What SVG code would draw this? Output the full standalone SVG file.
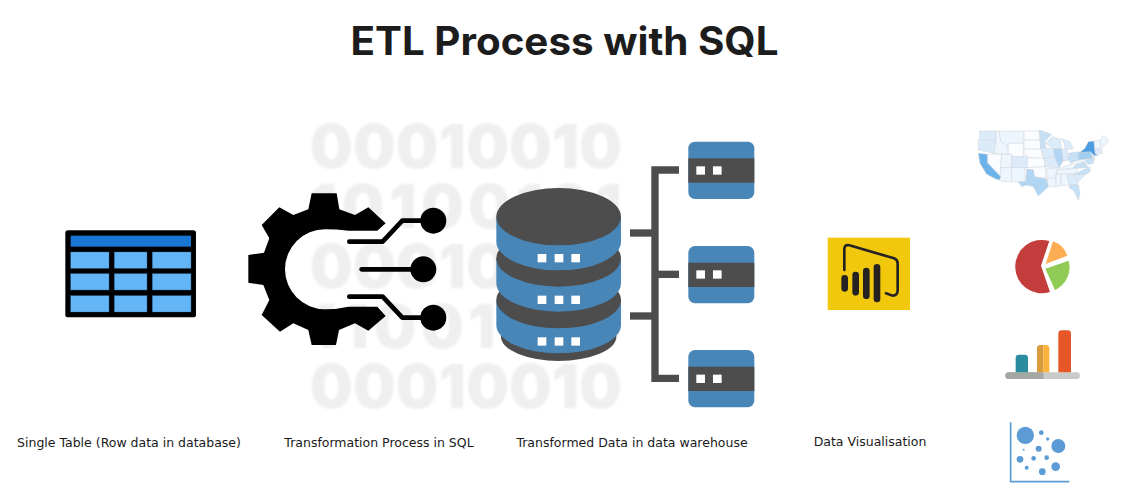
<svg xmlns="http://www.w3.org/2000/svg" width="1122" height="500" viewBox="0 0 1122 500">
<defs>
<style>
.lbl{font-family:"DejaVu Sans",Verdana,sans-serif;font-size:12.5px;fill:#1a1a1a;text-anchor:middle}
.bin{font-family:Inter,"Open Sans",sans-serif;font-weight:900;font-size:60px;fill:#efefef}
.db{fill:#4d4d4d}.bl{fill:#4a86b8}.wh{fill:#fff}
.cell{fill:#64b5f6;stroke:#2f6fa3;stroke-width:1}
.bar{fill:#252423}
.dot{fill:#5b9bd5}
.s0{fill:#fafcff}.s1{fill:#eef6fd}.s2{fill:#dcebf9}.s3{fill:#c6e0f6}.s4{fill:#b0d6f3}
</style>
<filter id="soft"><feGaussianBlur stdDeviation="1.1"/></filter>
<filter id="s2" x="-5%" y="-5%" width="110%" height="110%"><feGaussianBlur stdDeviation="1.5"/></filter>
</defs>
<rect width="1122" height="500" fill="#fff"/>
<text id="title" x="564.500" y="55" text-anchor="middle" font-family="Inter,Open Sans,sans-serif" font-weight="700" font-size="39" fill="#1c1c1c" textLength="428" lengthAdjust="spacingAndGlyphs">ETL Process with SQL</text>

<g id="binary" filter="url(#soft)">
<text class="bin" x="310" y="168" textLength="312">00010010</text>
<text class="bin" x="310" y="228" textLength="312">10100101</text>
<text class="bin" x="310" y="288" textLength="312">00010010</text>
<text class="bin" x="310" y="348" textLength="312">11001010</text>
<text class="bin" x="310" y="408" textLength="312">00010010</text>
</g>

<g id="table" transform="translate(50 220) scale(.3333)">
<rect x="46" y="31" width="392" height="261" rx="8"/>
<rect x="62" y="47" width="361" height="33" fill="#1976d2"/>
<rect class="cell" x="62" y="96" width="115" height="49"/><rect class="cell" x="193" y="96" width="98" height="49"/><rect class="cell" x="307" y="96" width="116" height="49"/>
<rect class="cell" x="62" y="161" width="115" height="49"/><rect class="cell" x="193" y="161" width="98" height="49"/><rect class="cell" x="307" y="161" width="116" height="49"/>
<rect class="cell" x="62" y="227" width="115" height="49"/><rect class="cell" x="193" y="227" width="98" height="49"/><rect class="cell" x="307" y="227" width="116" height="49"/>
</g>

<g id="gear" transform="translate(240 110) scale(.3333)" filter="url(#s2)">
<path d="M437 340L412 362H325Q290 358 255 358A120 120 0 0 0 255 598Q290 598 325 590H412L437 618L385 662L345 640L297 660L288 705H215L205 660L160 640L120 665L65 615L88 570L70 525L25 518V435L72 428L88 385L65 345L118 292L160 315L205 298L215 250H290L298 298L345 315L385 292Z"/>
<g fill="none" stroke="#000" stroke-width="14" stroke-linecap="round" stroke-linejoin="round">
<path d="M328 395H428L487 332H580"/><path d="M365 478H550"/><path d="M328 560H428L487 623H580"/>
</g>
<circle cx="580" cy="332" r="39"/><circle cx="550" cy="478" r="39"/><circle cx="580" cy="623" r="39"/>
</g>

<g id="database" transform="translate(490 130) scale(.3333)" filter="url(#s2)">
<ellipse class="db" cx="206" cy="620" rx="173" ry="73"/>
<path class="bl" d="M19 510H393V585A187 85 0 0 1 19 585Z"/>
<ellipse class="db" cx="206" cy="510" rx="187" ry="85"/>
<path class="bl" d="M19 385H393V460A187 85 0 0 1 19 460Z"/>
<ellipse class="db" cx="206" cy="385" rx="187" ry="85"/>
<path class="bl" d="M19 260H393V335A187 86 0 0 1 19 335Z"/>
<ellipse class="db" cx="206" cy="260" rx="187" ry="86"/>
<g class="wh">
<rect x="143" y="372" width="26" height="25"/><rect x="194" y="372" width="26" height="25"/><rect x="244" y="372" width="26" height="25"/>
<rect x="143" y="497" width="26" height="25"/><rect x="194" y="497" width="26" height="25"/><rect x="244" y="497" width="26" height="25"/>
<rect x="143" y="622" width="26" height="25"/><rect x="194" y="622" width="26" height="25"/><rect x="244" y="622" width="26" height="25"/>
</g>
</g>

<g id="connectors" transform="translate(490 130) scale(.3333)" fill="none" stroke="#4d4d4d" stroke-width="22" filter="url(#s2)">
<path d="M567 120H495V745H567"/><path d="M495 433H567"/><path d="M420 309H495"/><path d="M420 558H495"/>
</g>

<g id="drive1" transform="translate(490 130) scale(.3333)" filter="url(#s2)">
<rect class="bl" x="595" y="35" width="198" height="172" rx="20"/><rect class="db" x="595" y="85" width="198" height="73"/>
<rect class="wh" x="619" y="109" width="26" height="25"/><rect class="wh" x="669" y="109" width="26" height="25"/>
</g>
<g id="drive2" transform="translate(490 130) scale(.3333)" filter="url(#s2)">
<rect class="bl" x="595" y="348" width="198" height="172" rx="20"/><rect class="db" x="595" y="398" width="198" height="73"/>
<rect class="wh" x="619" y="421" width="26" height="25"/><rect class="wh" x="669" y="421" width="26" height="25"/>
</g>
<g id="drive3" transform="translate(490 130) scale(.3333)" filter="url(#s2)">
<rect class="bl" x="595" y="660" width="198" height="172" rx="20"/><rect class="db" x="595" y="710" width="198" height="73"/>
<rect class="wh" x="619" y="734" width="26" height="25"/><rect class="wh" x="669" y="734" width="26" height="25"/>
</g>

<g id="powerbi" transform="translate(820 230) scale(.3333)" filter="url(#s2)">
<rect x="23" y="23" width="247" height="217" fill="#f2c811"/>
<path d="M73 120V58Q73 42 88 46L222 85Q233 89 233 100V180Q233 197 218 197L198 190" fill="none" stroke="#252423" stroke-width="8" stroke-linecap="round"/>
<rect class="bar" x="64" y="135" width="20" height="50" rx="10"/><rect class="bar" x="97" y="125" width="20" height="72" rx="10"/><rect class="bar" x="129" y="113" width="20" height="94" rx="10"/><rect class="bar" x="161" y="102" width="20" height="115" rx="10"/>
</g>

<g id="usmap" transform="translate(970 125) scale(.3333)" filter="url(#s2)" stroke="#cfd3d8" stroke-width="1.5">
<path class="s2" d="M28 18H78V48L30 42Z"/>
<path class="s2" d="M25 42L78 50L72 85L25 75Z"/>
<path class="s0" d="M52 88H95L90 150L52 113Z"/>
<path class="s1" d="M78 18H88L92 50L112 62L115 88L72 85L78 50Z"/>
<path class="s1" d="M88 18H160V55H115L112 62L92 50Z"/>
<path class="s0" d="M115 55H160V95H125V88H115Z"/>
<path class="s1" d="M95 88H125V128H92Z"/>
<path class="s1" d="M92 128H125V170H100L88 165L92 155Z"/>
<path class="s2" d="M125 95H172V128H125Z"/>
<path class="s1" d="M125 128H165V170H130L125 170Z"/>
<path class="s0" d="M162 18H208L210 45H162Z"/>
<path class="s0" d="M162 45H210L212 72H162Z"/>
<path class="s0" d="M162 72H212L222 100L172 98V90H162Z"/>
<path class="s0" d="M172 98L222 100L226 125L172 128Z"/>
<path class="s0" d="M165 128L226 125L228 160L193 155L190 135L165 133Z"/>
<path class="s4" d="M170 133L190 135L193 155L230 162L235 185L205 213L190 185L170 180L155 185L145 170H167Z"/>
<path class="s3" d="M208 15L245 28L225 48L228 70H212Z"/>
<path class="s2" d="M212 70H250L255 95L222 100Z"/>
<path class="s2" d="M222 100L255 95L268 128L226 125Z"/>
<path class="s1" d="M228 130H262L255 160H232Z"/>
<path class="s1" d="M232 160H255L262 185H235Z"/>
<path class="s2" d="M245 35L270 42L275 72H250L228 55Z"/>
<path class="s4" d="M250 72H275L280 105L268 128L255 98Z"/>
<path class="s2" d="M275 72H292L295 105L280 110Z"/>
<path class="s2" d="M272 40L300 50L310 72H285L283 55Z"/>
<path class="s3" d="M295 85L325 80V105L303 115L295 105Z"/>
<path class="s1" d="M268 130L300 118L325 115L308 130L262 135Z"/>
<path class="s1" d="M262 135L325 130L318 145L258 148Z"/>
<path class="s1" d="M258 148H272V182L258 185Z"/>
<path class="s1" d="M272 148H290L298 180L275 182Z"/>
<path class="s2" d="M290 148H310L325 170L322 180H298Z"/>
<path class="s2" d="M310 148L335 145L345 150L325 170Z"/>
<path class="s3" d="M318 145L360 125V140L345 150L310 148Z"/>
<path class="s3" d="M308 130L325 115L345 110L355 128Z"/>
<path class="s1" d="M322 110L330 100L340 105L330 118Z"/>
<path class="s3" d="M298 180H325L330 205L325 225L312 198L298 188Z"/>
<path d="M25 85L52 88V113L92 155L88 165L78 162L50 148L30 115Z" fill="#6cb3ea"/>
<path fill="#a0cdf0" d="M325 82L362 80L368 100L325 105Z"/>
<path fill="#4a9de0" d="M330 82L345 70L355 50L372 48L375 85L385 92L370 90L362 80Z"/>
<path class="s3" d="M345 105L370 100V115L355 118Z"/>
<path class="s2" d="M365 90L375 92L372 108Z"/>
<path class="s1" d="M390 50L398 32L412 40L415 50L395 70Z"/>
<path class="s1" d="M372 48L392 45L390 72H375Z"/>
<path class="s2" d="M375 72H395L398 85L378 88Z"/>
</g>

<g id="pie" transform="translate(960 120) scale(.3333)" filter="url(#s2)">
<path fill="#c43e3e" d="M268 363A80 80 0 1 0 270 516L243 437Z"/>
<path fill="#fdae55" d="M257 432L279 364A70 70 0 0 1 322 407Z"/>
<path fill="#8fcb55" d="M256 446L326 422A75 75 0 0 1 285 510Z"/>
</g>

<g id="bars" transform="translate(990 320) scale(.3333)" filter="url(#s2)">
<rect x="46" y="157" width="224" height="20" rx="10" fill="#c8ccc8"/>
<path d="M160 157H56A10 10 0 0 0 56 177H160Z" fill="#a3a8a3"/>
<path d="M77 157V114Q77 104 87 104H104Q114 104 114 114V157Z" fill="#2a8c9e"/>
<path d="M141 157V85Q141 75 151 75H160V157Z" fill="#d89b3c"/>
<path d="M160 157V75H168Q178 75 178 85V157Z" fill="#fdb23e"/>
<path d="M205 157V41Q205 31 215 31H233Q243 31 243 41V157Z" fill="#e75626"/>
</g>

<g id="scatter" transform="translate(990 320) scale(.3333)" filter="url(#s2)">
<path d="M62 307V485H238" fill="none" stroke="#5b9bd5" stroke-width="5"/>
<circle class="dot" cx="106" cy="346" r="26"/><circle class="dot" cx="154" cy="338" r="7"/><circle class="dot" cx="173" cy="357" r="5"/><circle class="dot" cx="205" cy="378" r="21"/><circle class="dot" cx="101" cy="389" r="3"/><circle class="dot" cx="146" cy="386" r="9"/><circle class="dot" cx="90" cy="418" r="10"/><circle class="dot" cx="131" cy="415" r="7"/><circle class="dot" cx="170" cy="413" r="7"/><circle class="dot" cx="110" cy="443" r="6"/><circle class="dot" cx="157" cy="455" r="10"/><circle class="dot" cx="197" cy="440" r="13"/>
</g>

<text class="lbl" x="129" y="447">Single Table (Row data in database)</text>
<text class="lbl" x="379" y="447">Transformation Process in SQL</text>
<text class="lbl" x="632" y="447">Transformed Data in data warehouse</text>
<text class="lbl" x="870" y="446">Data Visualisation</text>
</svg>
